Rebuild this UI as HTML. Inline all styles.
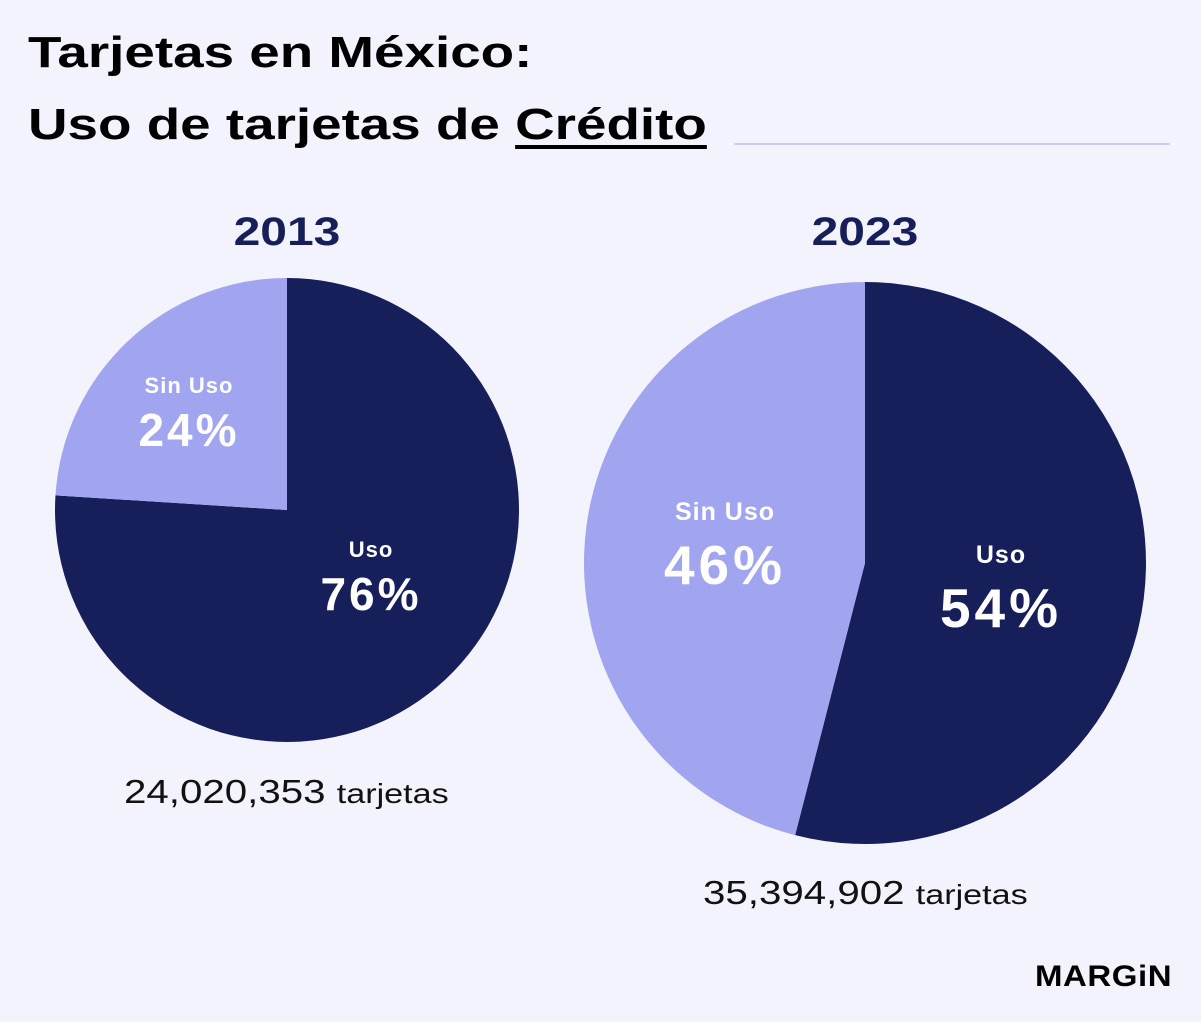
<!DOCTYPE html>
<html><head><meta charset="utf-8"><style>
body{margin:0;width:1201px;height:1022px;background:#f3f3fd;font-family:"Liberation Sans",sans-serif;overflow:hidden;position:relative}
.t{position:absolute;left:28px;font-weight:bold;font-size:44px;color:#000;transform:scaleX(1.245);transform-origin:0 0;white-space:nowrap}
.yr{position:absolute;font-weight:bold;font-size:40px;color:#171f5a;text-align:center;transform:scaleX(1.2)}
.tot{position:absolute;font-size:33px;color:#111;transform:scaleX(1.22);transform-origin:0 0;white-space:nowrap}
.tot small{font-size:28px}
</style></head><body>
<div class="t" style="top:28px">Tarjetas en México:</div>
<div class="t" style="top:100px">Uso de tarjetas de <span style="text-decoration:underline;text-underline-offset:6px">Crédito</span></div>
<div style="position:absolute;left:734px;top:143px;width:436px;height:2px;background:#c9cbef"></div>
<div class="yr" style="left:187px;top:210px;width:200px">2013</div>
<div class="yr" style="left:765px;top:210px;width:200px">2023</div>
<svg id="c" width="1201" height="1022" style="position:absolute;left:0;top:0"></svg>
<div class="tot" style="left:124px;top:773px">24,020,353 <small>tarjetas</small></div>
<div class="tot" style="left:703px;top:874px">35,394,902 <small>tarjetas</small></div>
<div style="position:absolute;left:1035px;top:960px;font-weight:900;font-size:30px;color:#000;letter-spacing:0.5px;transform:scaleX(1.1);transform-origin:0 0">MARGiN</div>
<script>
const categories=["Uso","Sin Uso"];
const values2013=[76,24];
const values2023=[54,46];
const colors=["#171f5a","#a1a5f0"];
const NS="http://www.w3.org/2000/svg";
const svg=document.getElementById('c');
function pt(cx,cy,r,f){const a=f*2*Math.PI-Math.PI/2;return [cx+r*Math.cos(a),cy+r*Math.sin(a)];}
function pie(vals,cx,cy,r,year,labels){
  const tot=vals.reduce((a,b)=>a+b,0);let acc=0;
  vals.forEach((v,i)=>{
    const f0=acc/tot,f1=(acc+v)/tot;acc+=v;
    const [x0,y0]=pt(cx,cy,r,f0),[x1,y1]=pt(cx,cy,r,f1);
    const p=document.createElementNS(NS,'path');
    p.setAttribute('d',`M${cx},${cy}L${x0},${y0}A${r},${r} 0 ${f1-f0>0.5?1:0} 1 ${x1},${y1}Z`);
    p.setAttribute('fill',colors[i]);
    
    
    svg.appendChild(p);
    const L=labels[i];
    [[categories[i],L[2]],[v+'%',L[3]]].forEach((s,k)=>{
      const t=document.createElementNS(NS,'text');
      t.setAttribute('x',L[0]);t.setAttribute('y',L[1]+(k?L[4]:0));
      t.setAttribute('text-anchor','middle');t.setAttribute('fill','#fff');
      t.setAttribute('font-size',s[1]);t.setAttribute('font-weight','bold');
      t.setAttribute('letter-spacing',k?L[5]:1);
      t.setAttribute('font-family','Liberation Sans, sans-serif');
      t.textContent=s[0];
      
      
      svg.appendChild(t);
    });
  });
}
pie(values2013,287,510,232,'2013',[[371,557,22,46,53,3],[189,393,22,46,53,3]]);
pie(values2023,865,563,281,'2023',[[1001,563,25,55,64,4],[725,520,25,55,64,4]]);
</script>
</body></html>
